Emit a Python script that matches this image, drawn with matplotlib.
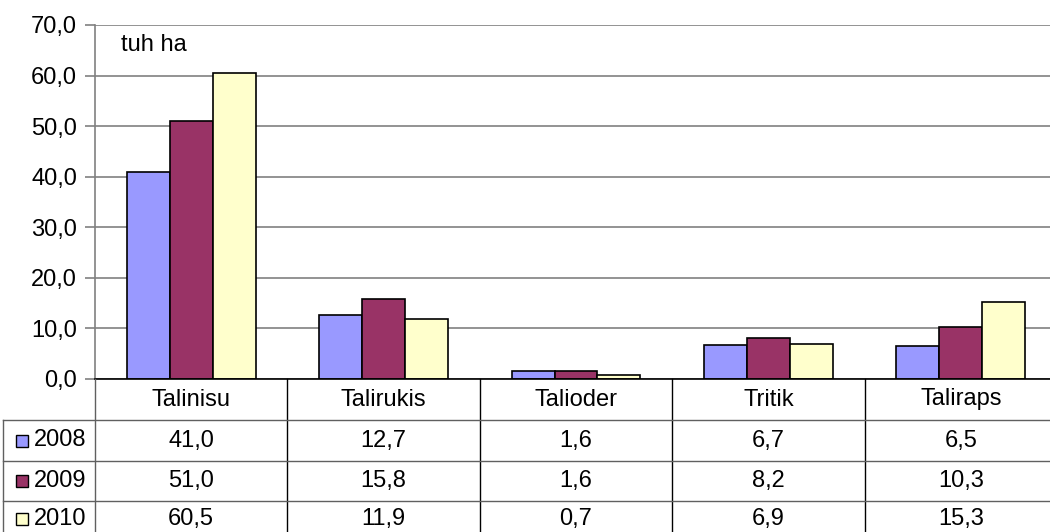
import numpy as np
import matplotlib
matplotlib.use("Agg")
import matplotlib.pyplot as plt
from matplotlib.transforms import blended_transform_factory
from matplotlib.patches import Rectangle

# Andmed
kategooriad = ["Talinisu", "Talirukis", "Talioder", "Tritik", "Taliraps"]
aastad = ["2008", "2009", "2010"]
v2008 = [41.0, 12.7, 1.6, 6.7, 6.5]
v2009 = [51.0, 15.8, 1.6, 8.2, 10.3]
v2010 = [60.5, 11.9, 0.7, 6.9, 15.3]
vaartused = [v2008, v2009, v2010]
varvid = ["#9999FF", "#993366", "#FFFFCC"]
yticks = [0, 10, 20, 30, 40, 50, 60, 70]

plt.rcParams['font.family'] = ['Liberation Sans', 'DejaVu Sans']
fs = 17

W, H = 1050, 532
fig = plt.figure(figsize=(W / 100, H / 100), dpi=100)

# telje asukoht pikslites
x0, x1 = 95, 1057
y_top, y_bot = 25, 379
ax = fig.add_axes([x0 / W, 1 - y_bot / H, (x1 - x0) / W, (y_bot - y_top) / H])

x = np.arange(len(kategooriad))
bw = 0.223
for i, (vals, c) in enumerate(zip(vaartused, varvid)):
    ax.bar(x + (i - 1) * bw, vals, width=bw, color=c, edgecolor="black",
           linewidth=1.2, zorder=3)

ax.set_xlim(-0.5, len(kategooriad) - 0.5)
ax.set_ylim(0, 70)
ax.set_yticks(yticks)
ax.set_yticklabels([f"{t:.1f}".replace(".", ",") for t in yticks], fontsize=fs)
ax.set_xticks([])
ax.yaxis.grid(True, color="#808080", linewidth=1.2, zorder=0)
ax.tick_params(axis="y", length=7, color="#808080", width=1.2, pad=6)
for s in ["top", "right"]:
    ax.spines[s].set_visible(False)
ax.spines["left"].set_color("#808080")
ax.spines["left"].set_linewidth(1.2)
ax.spines["bottom"].set_color("black")
ax.spines["bottom"].set_linewidth(1.2)
ax.spines["bottom"].set_zorder(4)

ax.text(26 / (x1 - x0), 1 - (45 - y_top) / (y_bot - y_top), "tuh ha",
        transform=ax.transAxes, fontsize=fs, va="center", ha="left")

# andmetabel
tr = blended_transform_factory(ax.transData, fig.transFigure)

def fy(py):
    return 1 - py / H

def fx(px):
    return px / W

lc = "black"
lw = 1.0
rida_y = [379, 420, 461, 501, 542]
# vertikaalsed jooned
fig.add_artist(plt.Line2D([fx(x0), fx(x0)], [fy(379), fy(532)], color="#606060", lw=lw))
for k in range(1, len(kategooriad)):
    fig.add_artist(plt.Line2D([k - 0.5, k - 0.5], [fy(379), fy(532)], transform=tr,
                              color=lc, lw=lw))
fig.add_artist(plt.Line2D([fx(3), fx(3)], [fy(420), fy(532)], color="#606060", lw=lw))
# horisontaalsed jooned
for py in rida_y[1:4]:
    fig.add_artist(plt.Line2D([fx(3), fx(1050)], [fy(py), fy(py)], color="#606060", lw=lw))

# päis
for k, nimi in enumerate(kategooriad):
    fig.text(k, fy((rida_y[0] + rida_y[1]) / 2), nimi, transform=tr,
             ha="center", va="center", fontsize=fs)

for r, (aasta, vals, c) in enumerate(zip(aastad, vaartused, varvid)):
    cy = (rida_y[r + 1] + rida_y[r + 2]) / 2
    if r == 2:
        cy = 519
    fig.add_artist(Rectangle((fx(16), fy(cy + 6)), 12 / W, 12 / H, facecolor=c,
                             edgecolor="black", lw=1.0, transform=fig.transFigure))
    fig.text(fx(34), fy(cy), aasta, ha="left", va="center", fontsize=fs)
    for k, v in enumerate(vals):
        fig.text(k, fy(cy), f"{v:.1f}".replace(".", ","), transform=tr,
                 ha="center", va="center", fontsize=fs)

plt.savefig("out.png", dpi=100)
